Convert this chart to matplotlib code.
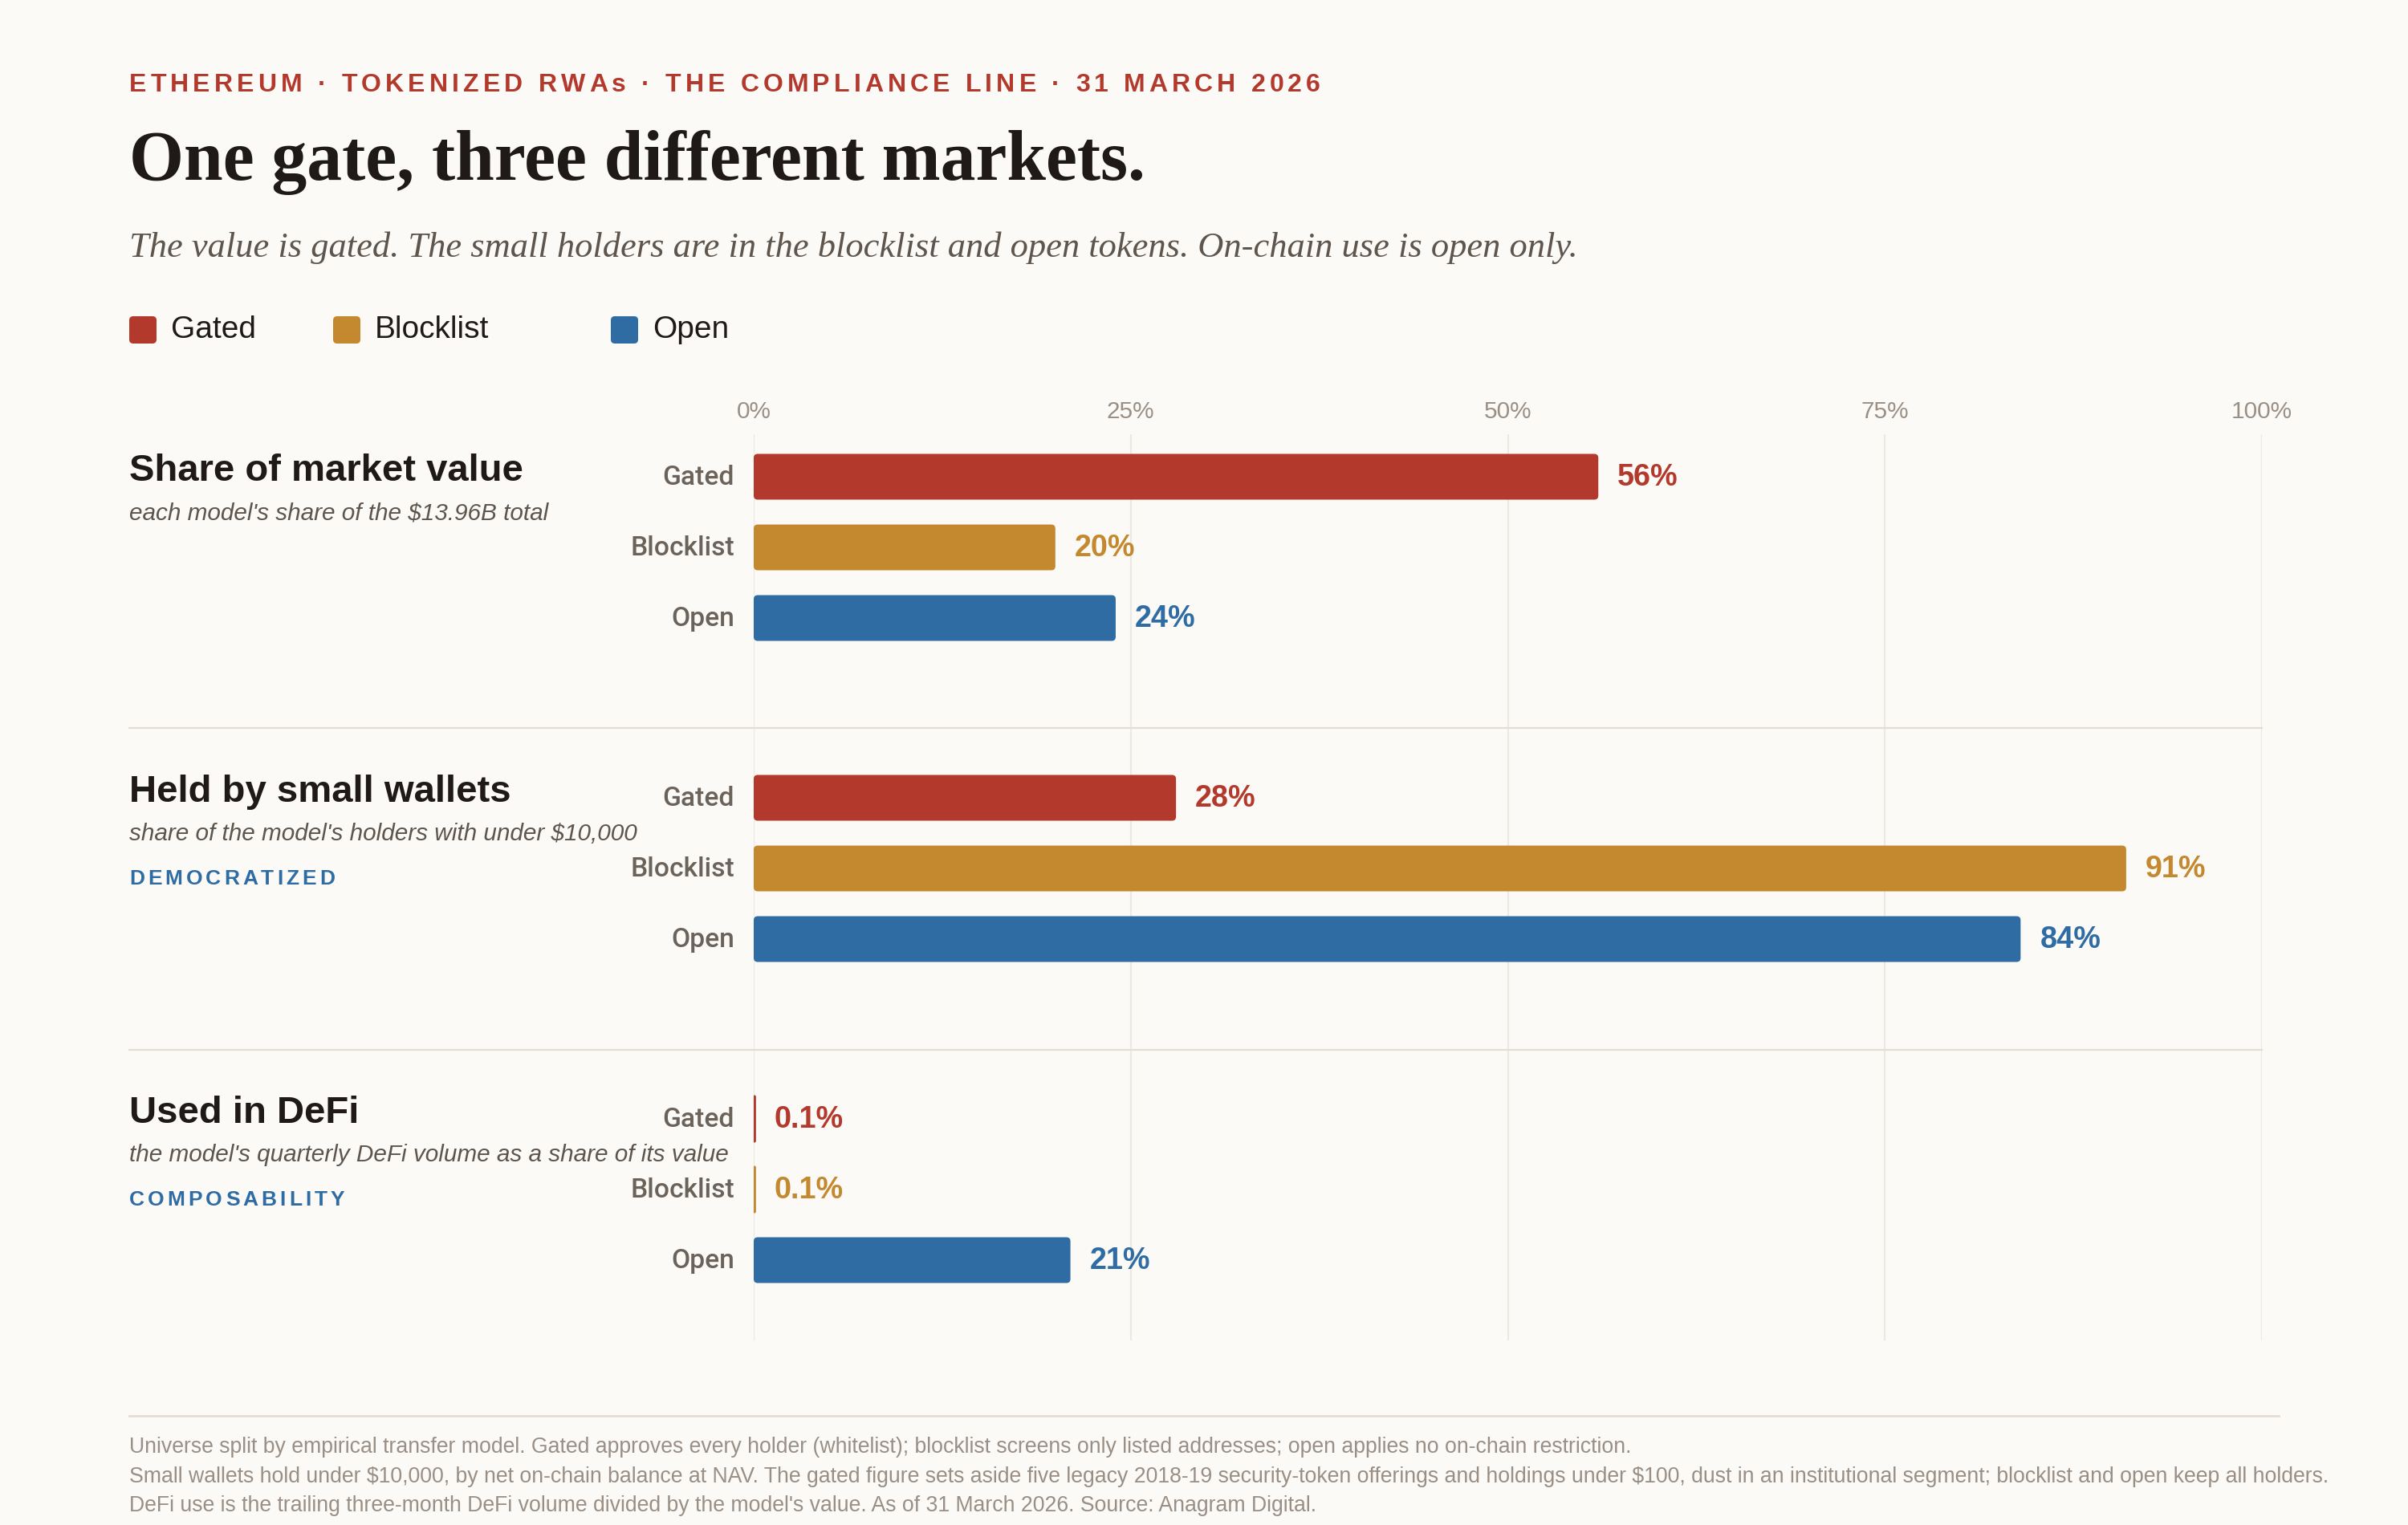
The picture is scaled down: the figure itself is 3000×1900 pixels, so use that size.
import matplotlib
matplotlib.use("Agg")
import matplotlib.pyplot as plt
from matplotlib.patches import FancyBboxPatch
from matplotlib.lines import Line2D
from matplotlib import font_manager, ft2font

plt.rcParams["text.parse_math"] = False

# ---- data ----
models = ["Gated", "Blocklist", "Open"]
model_colors = ["#b3392c", "#c4892f", "#2f6ca3"]
panel_titles = ["Share of market value", "Held by small wallets", "Used in DeFi"]
panel_notes = ["each model's share of the $13.96B total",
               "share of the model's holders with under $10,000",
               "the model's quarterly DeFi volume as a share of its value"]
panel_tags = ["", "DEMOCRATIZED", "COMPOSABILITY"]
market_share = [56, 20, 24]
small_wallets = [28, 91, 84]
defi_use = [0.1, 0.1, 21]
x_ticks = [0, 25, 50, 75, 100]
x_tick_labels = ["0%", "25%", "50%", "75%", "100%"]

kicker = "ETHEREUM · TOKENIZED RWAs · THE COMPLIANCE LINE · 31 MARCH 2026"
title = "One gate, three different markets."
subtitle = ("The value is gated. The small holders are in the blocklist and open tokens. "
            "On-chain use is open only.")
footer = ["Universe split by empirical transfer model. Gated approves every holder (whitelist); "
          "blocklist screens only listed addresses; open applies no on-chain restriction.",
          "Small wallets hold under $10,000, by net on-chain balance at NAV. The gated figure sets aside "
          "five legacy 2018-19 security-token offerings and holdings under $100, dust in an institutional "
          "segment; blocklist and open keep all holders.",
          "DeFi use is the trailing three-month DeFi volume divided by the model's value. "
          "As of 31 March 2026. Source: Anagram Digital."]

panels = [market_share, small_wallets, defi_use]

# ---- layout (pixels of the 3000x1900 canvas) ----
W, H, DPI = 3000, 1900, 200
BG = "#fbfaf7"
DARK = "#1f1a17"
MUTED = "#6b625a"
LIGHT = "#9a8f85"
SANS = "Liberation Sans"
SERIF = "Liberation Serif"

LEFT = 161
AX_X0, AX_X1 = 939, 2818
AX_Y0, AX_Y1 = 541, 1670
first_bar = [594, 994, 1394]
bar_step = 88
bar_h = 57


def fx(x):
    return x / W


def fy(y):
    return 1 - y / H


fig = plt.figure(figsize=(W / DPI, H / DPI), dpi=DPI, facecolor=BG)


def spaced_text(x, y, s, size, color, width, weight="bold"):
    # letter-spaced caps: spread the glyph advances to a given width
    fp = font_manager.FontProperties(family=SANS, weight=weight)
    font = ft2font.FT2Font(font_manager.findfont(fp))
    font.set_size(size, DPI)
    adv = [font.load_char(ord(c)).linearHoriAdvance / 65536 for c in s]
    track = (width - sum(adv)) / (len(s) - 1)
    cx = x
    for c, a in zip(s, adv):
        fig.text(fx(cx), fy(y), c, fontsize=size, color=color, family=SANS,
                 weight=weight, va="center", ha="left")
        cx += a + track


# header
spaced_text(LEFT, 106, kicker, 11.5, "#b3392c", 1484)
fig.text(fx(LEFT), fy(224), title, family=SERIF, weight="bold", fontsize=31.5,
         color=DARK, va="baseline")
fig.text(fx(LEFT), fy(320), subtitle, family=SERIF, style="italic", fontsize=16,
         color="#5e554d", va="baseline")

# legend
legend_x = [161, 415, 761]
for lx, name, col in zip(legend_x, models, model_colors):
    sq = FancyBboxPatch((lx / DPI, (H - 411 - 17) / DPI), 34 / DPI, 34 / DPI,
                        boxstyle="round,pad=0,rounding_size=0.025",
                        transform=fig.dpi_scale_trans, facecolor=col, edgecolor="none")
    fig.patches.append(sq)
    fig.text(fx(lx + 52), fy(411), name, family=SANS, fontsize=14, color=DARK, va="center")

# bars
ax = fig.add_axes([fx(AX_X0), fy(AX_Y1), (AX_X1 - AX_X0) / W, (AX_Y1 - AX_Y0) / H])
ax.set_facecolor("none")
ax.set_xlim(0, 100)
ax.set_ylim(AX_Y1, AX_Y0)
for sp in ax.spines.values():
    sp.set_visible(False)
ax.set_yticks([])
ax.set_xticks(x_ticks, x_tick_labels)
ax.xaxis.tick_top()
ax.tick_params(axis="x", length=0, pad=5, labelsize=10.7, labelcolor=LIGHT)
for lab in ax.get_xticklabels():
    lab.set_family(SANS)
ax.grid(axis="x", color="#ece8e2", lw=0.8)
ax.set_axisbelow(True)

px_per_x = (AX_X1 - AX_X0) / 100.0
for p, vals in enumerate(panels):
    ys = [first_bar[p] + i * bar_step for i in range(len(models))]
    bars = ax.barh(ys, vals, height=bar_h, color=model_colors)
    for b, v, y, name, col in zip(bars, vals, ys, models, model_colors):
        x0, y0, w, h = b.get_x(), b.get_y(), b.get_width(), b.get_height()
        b.remove()
        r = min(5 / px_per_x, w / 2)
        ax.add_patch(FancyBboxPatch((x0, y0), w, h,
                                    boxstyle=f"round,pad=0,rounding_size={r}",
                                    mutation_aspect=px_per_x, facecolor=col,
                                    edgecolor=col, lw=0.7 if w < 1 else 0))
        ax.text(-24 / px_per_x, y + 1, name, ha="right", va="center", family="Roboto",
                weight="medium", fontsize=12.1, color=MUTED)
        ax.text(v + 24 / px_per_x, y + 1, f"{v:g}%", ha="left", va="center", family=SANS,
                weight="bold", fontsize=13.6, color=col)

# panel labels
title_y = [587, 987, 1387]
for p in range(3):
    ty = title_y[p]
    fig.text(fx(LEFT), fy(ty), panel_titles[p], family=SANS, weight="bold", fontsize=17,
             color=DARK, va="center")
    fig.text(fx(LEFT), fy(ty + 52), panel_notes[p], family=SANS, style="italic",
             fontsize=10.7, color="#5e554d", va="center")
    if panel_tags[p]:
        tag_w = 256 if p == 1 else 268
        spaced_text(LEFT, ty + 108, panel_tags[p], 9.5, "#2f6ca3", tag_w)

# separators
for sy in [907, 1308]:
    fig.lines.append(Line2D([fx(LEFT), fx(AX_X1)], [fy(sy), fy(sy)], color="#e5ddd1",
                            lw=0.8, transform=fig.transFigure))
fig.lines.append(Line2D([fx(LEFT), fx(2839)], [fy(1764), fy(1764)], color="#e5ddd1",
                        lw=1.0, transform=fig.transFigure))

# footer
for fy_px, line in zip([1803, 1840, 1876], footer):
    fig.text(fx(LEFT), fy(fy_px), line, family=SANS, fontsize=9.6, color=LIGHT, va="center")

fig.savefig("out.png", dpi=DPI, facecolor=BG)
